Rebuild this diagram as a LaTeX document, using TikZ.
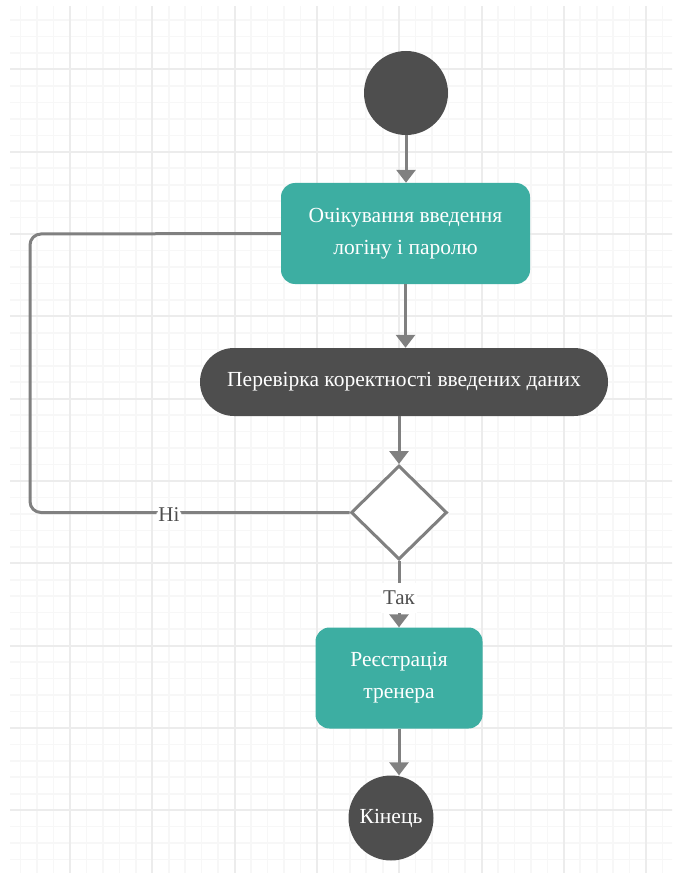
\documentclass[tikz,border=0pt]{standalone}
\usepackage{fontspec}
\setmainfont{Liberation Serif}
\usetikzlibrary{arrows.meta,shapes.geometric,shapes.misc}
\definecolor{teal1}{RGB}{61,174,162}
\definecolor{dark1}{RGB}{78,78,78}
\definecolor{conn}{RGB}{128,128,128}
\definecolor{gridmaj}{RGB}{236,236,236}
\definecolor{gridmin}{RGB}{247,247,247}
\tikzset{
  txt/.style={font=\fontsize{21.5}{32}\selectfont, text=white, align=center},
  actbox/.style={txt, rectangle, rounded corners=14pt, fill=teal1, inner sep=0pt},
  pillbox/.style={txt, rounded rectangle, fill=dark1, inner sep=0pt},
  startnode/.style={circle, fill=dark1, minimum size=84pt, inner sep=0pt},
  endnode/.style={circle, fill=dark1, minimum size=85pt, inner sep=0pt, txt},
  decision/.style={diamond, draw=conn, line width=3pt, fill=white, minimum width=96pt, minimum height=94pt, inner sep=0pt},
  flow/.style={draw=conn, line width=3pt, -{Triangle[width=19pt,length=13pt]}},
  plainflow/.style={draw=conn, line width=3pt, rounded corners=11pt},
  lbl/.style={font=\fontsize{21}{24}\selectfont, text=dark1, fill=white, inner sep=2pt}
}
\begin{document}
\begin{tikzpicture}[x=1pt,y=-1pt]
\useasboundingbox (0,0) rectangle (672,877);
\fill[white] (0,0) rectangle (672,877);
\begin{scope}
\clip (10,7) rectangle (672,872);
\foreach \x in {20.62,37.08,...,680} \draw[gridmin, line width=1.6pt] (\x,0) -- (\x,880);
\foreach \y in {20.12,36.58,...,880} \draw[gridmin, line width=1.6pt] (0,\y) -- (680,\y);
\foreach \x in {70,152.3,...,680} \draw[gridmaj, line width=2pt] (\x,0) -- (\x,880);
\foreach \y in {69.5,151.8,...,880} \draw[gridmaj, line width=2pt] (0,\y) -- (680,\y);
\end{scope}

\node[startnode] (start) at (406,93) {};
\node[actbox, minimum width=249pt, minimum height=101pt] (wait) at (405.5,233.5) {Очікування введення\\логіну і паролю};
\node[pillbox, minimum width=408pt, minimum height=68pt] (check) at (404,382) {Перевірка коректності введених даних};
\node[decision] (dec) at (399,512.5) {};
\node[actbox, minimum width=167pt, minimum height=101pt] (reg) at (399,678) {Реєстрація\\тренера};
\node[endnode] (fin) at (391,818) {Кінець};

\draw[flow] (start.south) -- (start.south |- wait.north);
\draw[flow] (wait.south) -- (wait.south |- check.north);
\draw[flow] (dec.north |- check.south) -- (dec.north);
\draw[flow] (dec.south) -- node[lbl, pos=0.56, minimum height=30pt] (yes) {Так} (reg.north);
\draw[flow] (reg.south) -- (reg.south |- fin.north);
\draw[plainflow] (dec.west) -- node[lbl, pos=0.565, yshift=-2pt] (no) {Ні} (30,512.5) -- (30,234) -- (wait.west);
\end{tikzpicture}
\end{document}
